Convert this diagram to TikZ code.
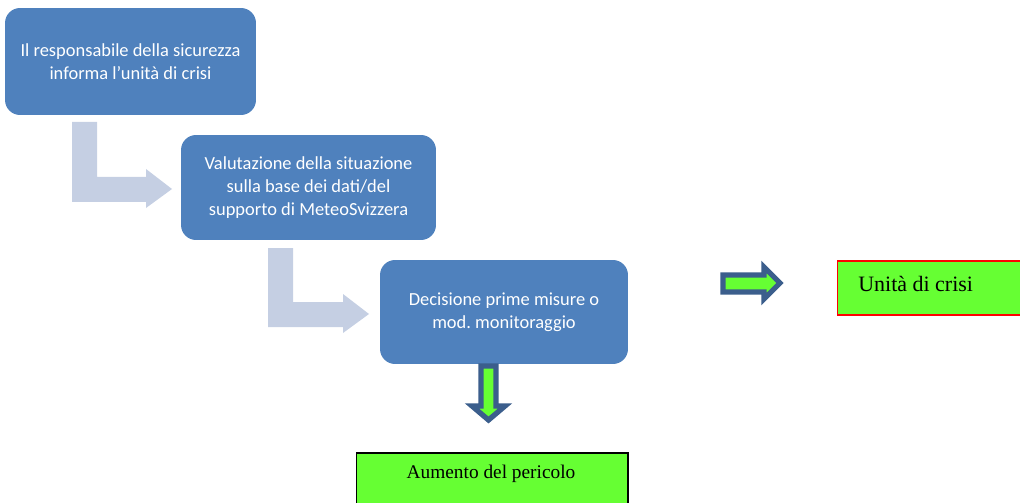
\documentclass[tikz,border=0pt]{standalone}
\usepackage{fontspec}
\setmainfont{Liberation Serif}
\newfontfamily\boxfont{Carlito}
\definecolor{stepblue}{HTML}{4F81BD}
\definecolor{bentgrey}{HTML}{C5CFE3}
\definecolor{signgreen}{HTML}{66FF33}
\definecolor{signedge}{HTML}{3B5E8C}
\tikzset{
  stepbox/.style={draw=none, fill=stepblue, rounded corners=0.3cm, text=white,
    align=center, font=\boxfont\fontsize{10.5}{13}\selectfont, inner sep=0pt},
  greenbox/.style={fill=signgreen, line width=0.6pt, inner sep=0pt},
  bentarrow/.style={fill=bentgrey, draw=none},
  blockarrow/.style={fill=signgreen, draw=signedge, line width=3pt, line join=miter}
}
\begin{document}
\begin{tikzpicture}[x=0.02cm, y=-0.02cm]
  \useasboundingbox (0,0) rectangle (1020,503);
  \clip (0,0) rectangle (1020,503);

  % Drawing step boxes
  \node [stepbox, minimum width=5.02cm, minimum height=2.14cm] (info) at (130.5,61.5)
    {Il responsabile della sicurezza\\informa l’unità di crisi};
  \node [stepbox, minimum width=5.10cm, minimum height=2.10cm] (eval) at (308.5,187.5)
    {Valutazione della situazione\\sulla base dei dati/del\\supporto di MeteoSvizzera};
  \node [stepbox, minimum width=4.96cm, minimum height=2.08cm] (decide) at (504,312)
    {Decisione prime misure o\\mod.\ monitoraggio};

  % Drawing bent arrow info -> eval
  \fill [bentarrow] (72,122) -- (97,122) -- (97,177) -- (146,177) -- (146,169)
    -- (172,189) -- (146,208) -- (146,202) -- (72,202) -- cycle;

  % Drawing bent arrow eval -> decide
  \fill [bentarrow] (268,248) -- (293,248) -- (293,302) -- (343,302) -- (343,294)
    -- (369,314) -- (343,333) -- (343,327) -- (268,327) -- cycle;

  % Drawing result boxes
  \node [greenbox, draw=black, minimum width=5.44cm, minimum height=1.4cm] (danger) at (492,488) {};
  \node [font=\fontsize{11}{13}\selectfont] at (491,474) {Aumento del pericolo};
  \node [greenbox, draw=red, minimum width=3.9cm, minimum height=1.08cm] (crisis) at (935,288) {};
  \node [anchor=west, inner sep=0pt, font=\fontsize{12.5}{15}\selectfont] at (858,284) {Unità di crisi};

  % Drawing block arrows
  \draw [blockarrow] (481,366) -- (496,366) -- (496,406) -- (505,406) -- (488.5,420)
    -- (472,406) -- (481,406) -- cycle;
  \draw [blockarrow] (723,275) -- (764,275) -- (764,267) -- (780,283) -- (764,299)
    -- (764,292) -- (723,292) -- cycle;
\end{tikzpicture}
\end{document}
